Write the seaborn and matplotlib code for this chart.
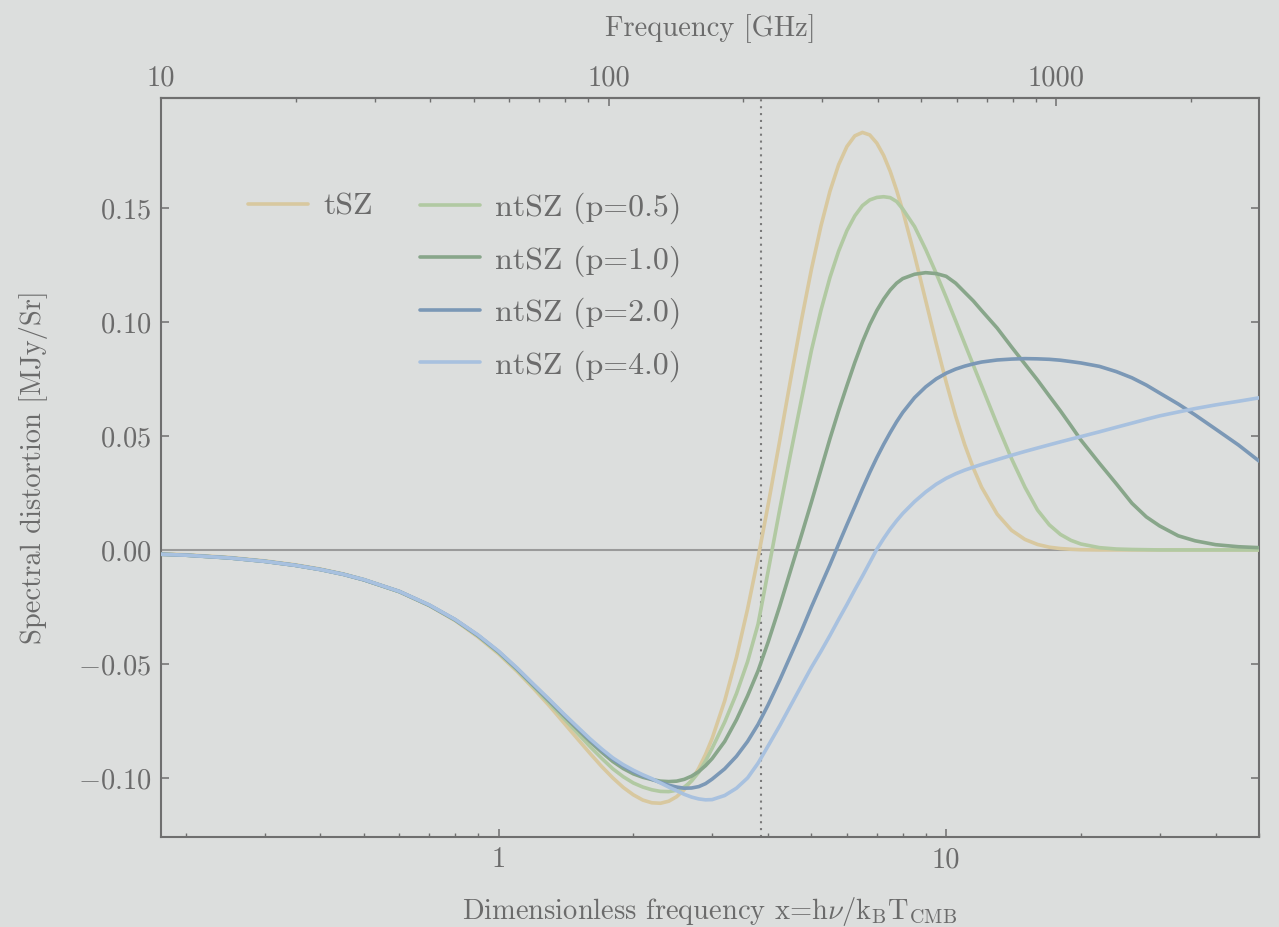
import matplotlib
matplotlib.use("Agg")
import matplotlib.pyplot as plt
import numpy as np
import pandas as pd
import seaborn as sns
from matplotlib.lines import Line2D
from matplotlib.ticker import FuncFormatter, FixedLocator, NullFormatter, NullLocator

# Dimensionless frequency grid x = h nu / k_B T_CMB
x_vals = [0.176, 0.2, 0.25, 0.3, 0.35, 0.4, 0.45, 0.5, 0.6, 0.7,
          0.8, 0.9, 1.0, 1.1, 1.2, 1.3, 1.4, 1.5, 1.6, 1.7,
          1.8, 1.9, 2.0, 2.1, 2.2, 2.3, 2.4, 2.5, 2.6, 2.7,
          2.8, 2.9, 3.0, 3.2, 3.4, 3.6, 3.8, 4.0, 4.25, 4.5,
          4.75, 5.0, 5.25, 5.5, 5.75, 6.0, 6.25, 6.5, 6.75, 7.0,
          7.25, 7.5, 7.75, 8.0, 8.5, 9.0, 9.5, 10, 10.5, 11,
          11.5, 12, 13, 14, 15, 16, 17, 18, 19, 20,
          22, 24, 26, 28, 30, 33, 36, 40, 45, 50]

# Spectral distortion [MJy/sr]
tsz = [-0.0017, -0.0021, -0.0033, -0.0048, -0.0065, -0.0084, -0.0106, -0.0130, -0.0183, -0.0244,
       -0.0310, -0.0382, -0.0456, -0.0533, -0.0610, -0.0685, -0.0759, -0.0828, -0.0892, -0.0950,
       -0.1000, -0.1042, -0.1074, -0.1097, -0.1109, -0.1111, -0.1102, -0.1082, -0.1051, -0.1010,
       -0.0958, -0.0897, -0.0827, -0.0662, -0.0471, -0.0259, -0.0034, 0.0196, 0.0482, 0.0756,
       0.1008, 0.1231, 0.1420, 0.1573, 0.1689, 0.1769, 0.1816, 0.1831, 0.1820, 0.1784,
       0.1730, 0.1660, 0.1577, 0.1487, 0.1292, 0.1094, 0.0906, 0.0736, 0.0587, 0.0462,
       0.0359, 0.0275, 0.0157, 0.0086, 0.0046, 0.0024, 0.0012, 0.0006, 0.0003, 0.0001,
       0.0, 0.0, 0.0, 0.0, 0.0, 0.0, 0.0, 0.0, 0.0, 0.0]

ntsz_p05 = [-0.0019, -0.0023, -0.0035, -0.0050, -0.0067, -0.0086, -0.0107, -0.0131, -0.0183, -0.0243,
            -0.0308, -0.0378, -0.0451, -0.0527, -0.0602, -0.0673, -0.0740, -0.0803, -0.0862, -0.0914,
            -0.0960, -0.0995, -0.1022, -0.1040, -0.1052, -0.1059, -0.1060, -0.1054, -0.1040, -0.1013,
            -0.0975, -0.0926, -0.0870, -0.0755, -0.0630, -0.0490, -0.0325, -0.0095, 0.0180, 0.0430,
            0.0660, 0.0875, 0.1050, 0.1195, 0.1310, 0.1400, 0.1465, 0.1510, 0.1535, 0.1546,
            0.1549, 0.1545, 0.1528, 0.1495, 0.1418, 0.1318, 0.1213, 0.1108, 0.1005, 0.0905,
            0.0810, 0.0720, 0.0550, 0.0400, 0.0275, 0.0175, 0.0110, 0.0068, 0.0042, 0.0026,
            0.0010, 0.0004, 0.0002, 0.0001, 0.0, 0.0, 0.0, 0.0, 0.0, 0.0]

ntsz_p10 = [-0.0019, -0.0023, -0.0035, -0.0050, -0.0067, -0.0086, -0.0107, -0.0131, -0.0183, -0.0243,
            -0.0307, -0.0376, -0.0448, -0.0523, -0.0597, -0.0665, -0.0728, -0.0786, -0.0840, -0.0887,
            -0.0928, -0.0959, -0.0982, -0.0997, -0.1007, -0.1014, -0.1016, -0.1014, -0.1006, -0.0992,
            -0.0972, -0.0946, -0.0915, -0.0840, -0.0745, -0.0640, -0.0530, -0.0405, -0.0245, -0.0085,
            0.0065, 0.0210, 0.0352, 0.0488, 0.0610, 0.0720, 0.0822, 0.0912, 0.0988, 0.1050,
            0.1100, 0.1140, 0.1170, 0.1190, 0.1209, 0.1216, 0.1212, 0.1200, 0.1170, 0.1130,
            0.1092, 0.1050, 0.0973, 0.0890, 0.0815, 0.0745, 0.0675, 0.0610, 0.0545, 0.0482,
            0.0380, 0.0290, 0.0205, 0.0145, 0.0105, 0.0062, 0.0040, 0.0023, 0.0014, 0.0010]

ntsz_p20 = [-0.0019, -0.0023, -0.0035, -0.0050, -0.0067, -0.0086, -0.0107, -0.0131, -0.0182, -0.0242,
            -0.0306, -0.0375, -0.0446, -0.0521, -0.0594, -0.0660, -0.0723, -0.0780, -0.0832, -0.0878,
            -0.0917, -0.0948, -0.0972, -0.0991, -0.1006, -0.1020, -0.1032, -0.1040, -0.1045, -0.1044,
            -0.1038, -0.1025, -0.1005, -0.0960, -0.0905, -0.0840, -0.0765, -0.0680, -0.0570, -0.0460,
            -0.0355, -0.0250, -0.0155, -0.0065, 0.0025, 0.0110, 0.0190, 0.0268, 0.0340, 0.0405,
            0.0463, 0.0515, 0.0562, 0.0603, 0.0668, 0.0715, 0.0750, 0.0775, 0.0793, 0.0806,
            0.0816, 0.0824, 0.0833, 0.0837, 0.0839, 0.0838, 0.0836, 0.0832, 0.0826, 0.0820,
            0.0805, 0.0782, 0.0755, 0.0723, 0.0688, 0.0640, 0.0592, 0.0530, 0.0460, 0.0390]

ntsz_p40 = [-0.0019, -0.0023, -0.0035, -0.0050, -0.0067, -0.0086, -0.0107, -0.0130, -0.0182, -0.0241,
            -0.0305, -0.0373, -0.0444, -0.0518, -0.0591, -0.0657, -0.0720, -0.0776, -0.0828, -0.0873,
            -0.0912, -0.0942, -0.0966, -0.0986, -0.1003, -0.1022, -0.1040, -0.1056, -0.1072, -0.1084,
            -0.1092, -0.1096, -0.1095, -0.1077, -0.1045, -0.1000, -0.0935, -0.0860, -0.0770, -0.0680,
            -0.0595, -0.0515, -0.0445, -0.0375, -0.0305, -0.0240, -0.0175, -0.0115, -0.0055, 0.0003,
            0.0050, 0.0092, 0.0128, 0.0160, 0.0212, 0.0254, 0.0288, 0.0314, 0.0334, 0.0350,
            0.0363, 0.0375, 0.0396, 0.0415, 0.0432, 0.0447, 0.0461, 0.0474, 0.0486, 0.0497,
            0.0518, 0.0538, 0.0556, 0.0573, 0.0588, 0.0605, 0.0620, 0.0636, 0.0652, 0.0667]

series_names = ["tSZ", "ntSZ (p=0.5)", "ntSZ (p=1.0)", "ntSZ (p=2.0)", "ntSZ (p=4.0)"]
series_values = [tsz, ntsz_p05, ntsz_p10, ntsz_p20, ntsz_p40]
series_colors = ["#d8c89f", "#b1c9a2", "#88a68a", "#7b98b6", "#a8c1df"]

y_ticks = [-0.10, -0.05, 0.00, 0.05, 0.10, 0.15]
x_major = [1, 10]
x_minor = [0.2, 0.3, 0.4, 0.5, 0.6, 0.7, 0.8, 0.9, 2, 3, 4, 5, 6, 7, 8, 9, 20, 30, 40, 50]
nu_major = [10, 100, 1000]
nu_minor = [20, 30, 40, 50, 60, 70, 80, 90, 200, 300, 400, 500, 600, 700, 800, 900, 2000]
x_null = 3.85          # tSZ null (~217 GHz)
GHZ_PER_X = 56.79      # nu [GHz] = 56.79 * x for T_CMB = 2.7255 K

BG = "#dcdedd"
TXT = "#6b6b6b"
SPINE = "#6f6f6f"
FS = 20.5
LW = 2.6

sns.set_theme(style="ticks")
plt.rcParams.update({
    "font.family": ["cmr10"],
    "mathtext.fontset": "cm",
    "axes.formatter.use_mathtext": True,
    "axes.unicode_minus": True,
    "font.size": FS,
})

df = pd.concat(
    [pd.DataFrame({"x": x_vals, "y": vals, "series": name})
     for name, vals in zip(series_names, series_values)],
    ignore_index=True,
)

fig = plt.figure(figsize=(12.79, 9.27), dpi=100, facecolor=BG)
ax = fig.add_axes([161 / 1279, 1 - 837 / 927, 1098 / 1279, 739 / 927])
ax.set_facecolor(BG)
ax.set_xscale("log")

ax.axhline(0.0, color="#9a9a9a", lw=1.5, zorder=1)
ax.axvline(x_null, color="#7a7a7a", lw=1.5, ls=(0, (1, 2.3)), zorder=1)

palette = dict(zip(series_names, series_colors))
sns.lineplot(data=df, x="x", y="y", hue="series", hue_order=series_names,
             palette=palette, linewidth=LW, estimator=None, sort=False,
             legend=False, ax=ax, zorder=3)
for line in ax.get_lines():
    line.set_solid_joinstyle("round")
    line.set_solid_capstyle("round")

ax.set_xlim(10 / GHZ_PER_X, 50)
ax.set_ylim(-0.1259, 0.1982)

# Axis styling
for side in ["left", "right", "bottom", "top"]:
    ax.spines[side].set_color(SPINE)
    ax.spines[side].set_linewidth(1.5)

ax.xaxis.set_major_locator(FixedLocator(x_major))
ax.xaxis.set_minor_locator(FixedLocator(x_minor))
ax.xaxis.set_major_formatter(FuncFormatter(lambda v, p: f"{v:g}"))
ax.xaxis.set_minor_formatter(NullFormatter())
ax.yaxis.set_major_locator(FixedLocator(y_ticks))
ax.yaxis.set_minor_locator(NullLocator())
ax.yaxis.set_major_formatter(FuncFormatter(lambda v, p: f"${v:.2f}$"))

ax.tick_params(axis="both", which="both", direction="in", colors=SPINE,
               labelcolor=TXT, labelsize=FS)
ax.tick_params(axis="x", which="both", bottom=True, top=False, pad=7)
ax.tick_params(axis="y", which="both", left=True, right=True, pad=6.8)
ax.tick_params(which="major", length=6, width=1.1)
ax.tick_params(which="minor", length=3.2, width=1.0)

ax.set_xlabel(r"Dimensionless frequency x=h$\nu$/k$_\mathrm{B}$T$_\mathrm{CMB}$", color=TXT, fontsize=FS)
ax.set_ylabel("Spectral distortion [MJy/Sr]", color=TXT, fontsize=FS)
ax.xaxis.set_label_coords(0.5, -0.078)
ax.yaxis.set_label_coords(-0.103, 0.5)

# Frequency axis on top
secax = ax.secondary_xaxis("top", functions=(lambda x: x * GHZ_PER_X,
                                              lambda nu: nu / GHZ_PER_X))
secax.xaxis.set_major_locator(FixedLocator(nu_major))
secax.xaxis.set_minor_locator(FixedLocator(nu_minor))
secax.xaxis.set_major_formatter(FuncFormatter(lambda v, p: f"{v:g}"))
secax.xaxis.set_minor_formatter(NullFormatter())
secax.tick_params(axis="x", which="both", direction="in", colors=SPINE,
                  labelcolor=TXT, labelsize=FS, pad=4.4)
secax.tick_params(which="major", length=6, width=1.1)
secax.tick_params(which="minor", length=3.2, width=1.0)
secax.spines["top"].set_color(SPINE)
secax.spines["top"].set_linewidth(1.5)
secax.set_xlabel("Frequency [GHz]", color=TXT, fontsize=FS, labelpad=21.5)

# Legends: tSZ alone on the left, the non-thermal family in a second column
handles = [Line2D([], [], color=c, lw=LW) for c in series_colors]
leg_kw = dict(frameon=False, fontsize=23, handlelength=1.88, handletextpad=0.47,
              labelspacing=0.66, borderpad=0, borderaxespad=0, loc="upper left")
leg1 = ax.legend(handles[:1], series_names[:1], bbox_to_anchor=(0.0792, 0.872), **leg_kw)
for t in leg1.get_texts():
    t.set_color(TXT)
ax.add_artist(leg1)
leg2 = ax.legend(handles[1:], series_names[1:], bbox_to_anchor=(0.2359, 0.872), **leg_kw)
for t in leg2.get_texts():
    t.set_color(TXT)

fig.savefig("out.png", dpi=100, facecolor=BG)
